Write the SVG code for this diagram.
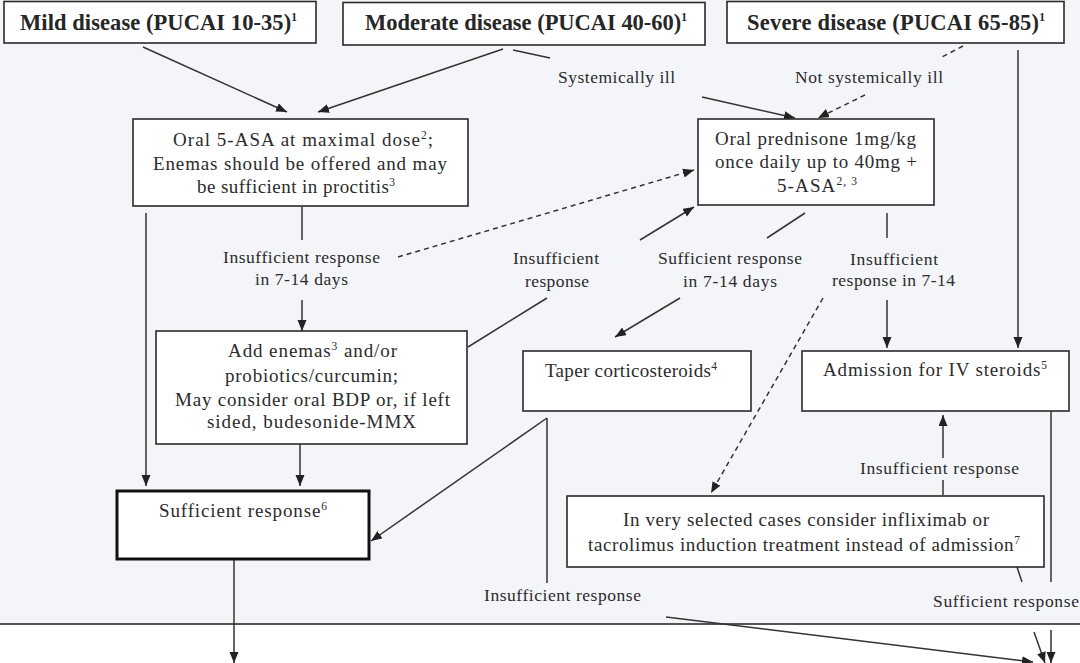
<svg xmlns="http://www.w3.org/2000/svg" width="1080" height="663" viewBox="0 0 1080 663">
  <defs>
    <marker id="arrow" markerUnits="userSpaceOnUse" markerWidth="12" markerHeight="10" refX="11" refY="4.5" orient="auto">
      <path d="M0,0 L11,4.5 L0,9 z" fill="#222"/>
    </marker>
    <style>
      .box { fill: #ffffff; stroke: #2a2a2a; stroke-width: 1.6; }
      .box-strong { fill: #ffffff; stroke: #111; stroke-width: 3; }
      .title { font-family: "Liberation Serif", "Times New Roman", serif; font-size: 22.5px; font-weight: bold; fill: #262626; }
      .txt { font-family: "Liberation Serif", "Times New Roman", serif; font-size: 19px; fill: #2b2b2b; }
      .lbl { font-family: "Liberation Serif", "Times New Roman", serif; font-size: 17.5px; fill: #2b2b2b; }
      .sup { font-size: 11.5px; }
      .line { fill: none; stroke: #333; stroke-width: 1.5; }
      .dash { fill: none; stroke: #333; stroke-width: 1.5; stroke-dasharray: 5 4; }
      .arr { marker-end: url(#arrow); }
    </style>
  </defs>

  <!-- page backdrop and lower band -->
  <rect x="0" y="0" width="1080" height="624" fill="#f4f5f8"/>
  <rect x="0" y="624" width="1080" height="39" fill="#ffffff"/>
  <line x1="0" y1="624" x2="1080" y2="624" stroke="#555" stroke-width="2"/>

  <!-- connectors -->
  <g id="connectors">
    <path class="line arr" d="M143,47 L287,112"/>
    <path class="line arr" d="M503,49 L318,112"/>
    <path class="line" d="M513,50 L550,58"/>
    <path class="line arr" d="M702,97 L795,118"/>
    <path class="dash" d="M963,46 L942,57"/>
    <path class="dash arr" d="M865,95 L818,118"/>
    <path class="line arr" d="M1018,50 L1018,348"/>

    <path class="line" d="M302,207 L302,240"/>
    <path class="line arr" d="M302,300 L302,331"/>
    <path class="line arr" d="M146,213 L146,486"/>
    <path class="dash arr" d="M398,257 L694,170"/>

    <path class="line" d="M468,347 L547,298"/>
    <path class="line arr" d="M640,240 L694,207"/>
    <path class="line" d="M805,213 L767,238"/>
    <path class="line arr" d="M680,298 L615,337"/>
    <path class="line" d="M887,213 L887,238"/>
    <path class="line arr" d="M887,300 L887,348"/>
    <path class="dash arr" d="M823,298 L711,493"/>

    <path class="line arr" d="M300,444 L300,486"/>
    <path class="line arr" d="M547,418 L371,541"/>
    <path class="line" d="M547,418 L547,583"/>
    <path class="line arr" d="M666,617 L1033,662"/>

    <path class="line" d="M943,495 L943,480"/>
    <path class="line arr" d="M943,458 L943,415"/>
    <path class="line" d="M1051,411 L1051,582"/>
    <path class="line arr" d="M1051,630 L1051,663"/>
    <path class="line" d="M1017,567 L1022,582"/>
    <path class="line arr" d="M1034,632 L1045,663"/>
    <path class="line arr" d="M234,559 L234,663"/>
  </g>

  <!-- severity entry points -->
  <g id="mild">
    <rect class="box" x="4" y="1.5" width="312" height="41.5"/>
    <text class="title" x="20" y="30" textLength="277" lengthAdjust="spacing">Mild disease (PUCAI 10-35)<tspan class="sup" dy="-9">1</tspan></text>
  </g>
  <g id="moderate">
    <rect class="box" x="343" y="2.5" width="362" height="42.5"/>
    <text class="title" x="365" y="30" textLength="322" lengthAdjust="spacing">Moderate disease (PUCAI 40-60)<tspan class="sup" dy="-9">1</tspan></text>
  </g>
  <g id="severe">
    <rect class="box" x="727" y="1.5" width="337" height="41.5"/>
    <text class="title" x="747" y="30" textLength="298" lengthAdjust="spacing">Severe disease (PUCAI 65-85)<tspan class="sup" dy="-9">1</tspan></text>
  </g>

  <!-- branch labels -->
  <g id="label-systemic">
    <text class="lbl" x="558" y="83" textLength="117" lengthAdjust="spacing">Systemically ill</text>
  </g>
  <g id="label-not-systemic">
    <text class="lbl" x="795" y="83" textLength="148" lengthAdjust="spacing">Not systemically ill</text>
  </g>

  <g id="oral-5asa">
    <rect class="box" x="133" y="119" width="335" height="87"/>
    <text class="txt" x="173" y="146" textLength="260" lengthAdjust="spacing">Oral 5-ASA at maximal dose<tspan class="sup" dy="-7">2</tspan><tspan dy="7">;</tspan></text>
    <text class="txt" x="153" y="170" textLength="294" lengthAdjust="spacing">Enemas should be offered and may</text>
    <text class="txt" x="197" y="193" textLength="198" lengthAdjust="spacing">be sufficient in proctitis<tspan class="sup" dy="-7">3</tspan></text>
  </g>

  <g id="prednisone">
    <rect class="box" x="698" y="119" width="236" height="86"/>
    <text class="txt" x="715" y="145" textLength="201" lengthAdjust="spacing">Oral prednisone 1mg/kg</text>
    <text class="txt" x="715" y="168" textLength="202" lengthAdjust="spacing">once daily up to 40mg +</text>
    <text class="txt" x="777" y="192" textLength="80" lengthAdjust="spacing">5-ASA<tspan class="sup" dy="-7">2, 3</tspan></text>
  </g>

  <g id="label-insufficient-5asa">
    <text class="lbl" x="223" y="263" textLength="157" lengthAdjust="spacing">Insufficient response</text>
    <text class="lbl" x="255" y="285" textLength="93" lengthAdjust="spacing">in 7-14 days</text>
  </g>
  <g id="label-insufficient-enemas">
    <text class="lbl" x="513" y="264" textLength="86" lengthAdjust="spacing">Insufficient</text>
    <text class="lbl" x="525" y="287" textLength="64" lengthAdjust="spacing">response</text>
  </g>
  <g id="label-sufficient-pred">
    <text class="lbl" x="658" y="264" textLength="144" lengthAdjust="spacing">Sufficient response</text>
    <text class="lbl" x="683" y="287" textLength="94" lengthAdjust="spacing">in 7-14 days</text>
  </g>
  <g id="label-insufficient-pred">
    <text class="lbl" x="850" y="265" textLength="88" lengthAdjust="spacing">Insufficient</text>
    <text class="lbl" x="832" y="286" textLength="123" lengthAdjust="spacing">response in 7-14</text>
  </g>

  <g id="add-enemas">
    <rect class="box" x="156" y="331" width="311" height="113"/>
    <text class="txt" x="228" y="357" textLength="169" lengthAdjust="spacing">Add enemas<tspan class="sup" dy="-7">3</tspan><tspan dy="7"> and/or</tspan></text>
    <text class="txt" x="225" y="382" textLength="173" lengthAdjust="spacing">probiotics/curcumin;</text>
    <text class="txt" x="175" y="406" textLength="275" lengthAdjust="spacing">May consider oral BDP or, if left</text>
    <text class="txt" x="207" y="428" textLength="209" lengthAdjust="spacing">sided, budesonide-MMX</text>
  </g>

  <g id="taper">
    <rect class="box" x="523" y="351" width="228" height="60"/>
    <text class="txt" x="545" y="377" textLength="172" lengthAdjust="spacing">Taper corticosteroids<tspan class="sup" dy="-7">4</tspan></text>
  </g>

  <g id="admission">
    <rect class="box" x="802" y="351" width="267" height="60"/>
    <text class="txt" x="823" y="376" textLength="224" lengthAdjust="spacing">Admission for IV steroids<tspan class="sup" dy="-7">5</tspan></text>
  </g>

  <g id="sufficient">
    <rect class="box-strong" x="117" y="491" width="252" height="68"/>
    <text class="txt" x="159" y="517" textLength="168" lengthAdjust="spacing">Sufficient response<tspan class="sup" dy="-7">6</tspan></text>
  </g>

  <g id="label-insufficient-selected">
    <text class="lbl" x="860" y="474" textLength="159" lengthAdjust="spacing">Insufficient response</text>
  </g>

  <g id="selected-cases">
    <rect class="box" x="567" y="496" width="477" height="71"/>
    <text class="txt" x="623" y="526" textLength="366" lengthAdjust="spacing">In very selected cases consider infliximab or</text>
    <text class="txt" x="588" y="551" textLength="432" lengthAdjust="spacing">tacrolimus induction treatment instead of admission<tspan class="sup" dy="-7">7</tspan></text>
  </g>

  <g id="label-insufficient-taper">
    <text class="lbl" x="484" y="601" textLength="157" lengthAdjust="spacing">Insufficient response</text>
  </g>
  <g id="label-sufficient-bottom">
    <text class="lbl" x="933" y="607" textLength="146" lengthAdjust="spacing">Sufficient response</text>
  </g>
</svg>
